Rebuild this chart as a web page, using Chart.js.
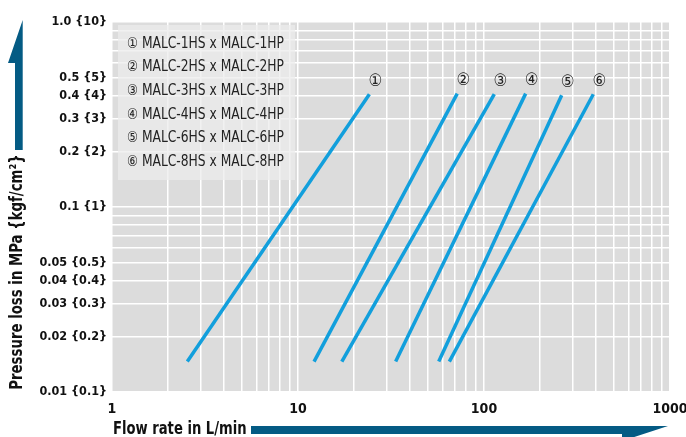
<!DOCTYPE html>
<html><head><meta charset="utf-8">
<script src="https://cdn.jsdelivr.net/npm/chart.js@4"></script>
<style>html,body{margin:0;padding:0;background:#fff}#wrap{width:686px;height:437px}</style>
</head><body><div id="wrap"><canvas id="c" width="686" height="437"></canvas></div>
<script>
// ---- data ----
const seriesNames = ['①','②','③','④','⑤','⑥'];
const legendLabels = ['① MALC-1HS x MALC-1HP','② MALC-2HS x MALC-2HP','③ MALC-3HS x MALC-3HP','④ MALC-4HS x MALC-4HP','⑤ MALC-6HS x MALC-6HP','⑥ MALC-8HS x MALC-8HP'];
const flowLow  = [2.54, 12.2, 17.2, 33.5, 57.1, 65.1];
const flowHigh = [24.2, 71.8, 113.6, 167.5, 261.6, 387];
const pressureLow  = [0.0146, 0.0146, 0.0146, 0.0146, 0.0146, 0.0146];
const pressureHigh = [0.407, 0.41, 0.407, 0.41, 0.402, 0.407];
const yTickValues = [1, 0.5, 0.4, 0.3, 0.2, 0.1, 0.05, 0.04, 0.03, 0.02, 0.01];
const yTickLabels = ['1.0 {10}','0.5 {5}','0.4 {4}','0.3 {3}','0.2 {2}','0.1 {1}','0.05 {0.5}','0.04 {0.4}','0.03 {0.3}','0.02 {0.2}','0.01 {0.1}'];
const xTickValues = [1, 10, 100, 1000];
const xTickLabels = ['1','10','100','1000'];
const xTitle = 'Flow rate in L/min';
const yTitle = 'Pressure loss in MPa {kgf/cm²}';

const FONT = '"DejaVu Sans Condensed","Liberation Sans Narrow","Liberation Sans",sans-serif';
const LINE = '#129fdc';
const ARROW = '#045b84';

function decadeTicks(lo, hi){
  const t=[];
  for(let d=lo; d<hi; d*=10){ for(let m=1;m<10;m++) t.push({value:+(m*d).toPrecision(3)}); }
  t.push({value:hi});
  return t;
}
function findLabel(vals, labels, v){
  for(let i=0;i<vals.length;i++){ if(Math.abs(vals[i]-v)/vals[i] < 1e-6) return labels[i]; }
  return '';
}
function squeezeText(ctx, text, x, y, sx){
  ctx.save(); ctx.translate(x,y); ctx.scale(sx,1); ctx.fillText(text,0,0); ctx.restore();
}

const datasets = seriesNames.map((n,i)=>({
  label:n,
  data:[{x:flowLow[i],y:pressureLow[i]},{x:flowHigh[i],y:pressureHigh[i]}],
  borderColor:LINE, borderWidth:3.5, pointRadius:0, fill:false, tension:0, borderCapStyle:'butt'
}));

const decor = {
  id:'decor',
  beforeDraw(chart){
    const {ctx, chartArea:a} = chart;
    ctx.save();
    ctx.fillStyle='#dcdcdc';
    ctx.fillRect(a.left, a.top, a.right-a.left, a.bottom-a.top);
    ctx.restore();
  },
  beforeDatasetsDraw(chart){
    const {ctx} = chart;
    ctx.save();
    ctx.fillStyle='rgba(236,236,236,0.75)';
    ctx.fillRect(118, 25, 177, 155);
    ctx.fillStyle='#222';
    ctx.font='15px '+FONT;
    ctx.textBaseline='middle';
    legendLabels.forEach((t,i)=>{ squeezeText(ctx, t, 127, 44 + i*23.6, 0.91); });
    ctx.restore();
  },
  afterDatasetsDraw(chart){
    const {ctx} = chart;
    ctx.save();
    ctx.fillStyle='#222';
    ctx.font='17px '+FONT;
    ctx.textAlign='center'; ctx.textBaseline='middle';
    chart.data.datasets.forEach((ds,i)=>{
      const m = chart.getDatasetMeta(i);
      const p = m.data[1];
      ctx.fillText(ds.label, p.x+6, p.y-13);
    });
    // arrows
    ctx.fillStyle=ARROW;
    ctx.beginPath();
    ctx.moveTo(22.7,20); ctx.lineTo(22.7,150); ctx.lineTo(15,150); ctx.lineTo(15,63); ctx.lineTo(8,63); ctx.closePath();
    ctx.fill();
    ctx.beginPath();
    ctx.moveTo(251,426); ctx.lineTo(668,426); ctx.lineTo(622,441); ctx.lineTo(622,434); ctx.lineTo(251,434); ctx.closePath();
    ctx.fill();
    // titles
    ctx.fillStyle='#111';
    ctx.font='bold 17px '+FONT;
    ctx.textAlign='left'; ctx.textBaseline='middle';
    squeezeText(ctx, xTitle, 113, 430, 0.86);
    ctx.translate(18, 272);
    ctx.rotate(-Math.PI/2);
    ctx.textAlign='center';
    squeezeText(ctx, yTitle, 0, 0, 0.87);
    ctx.restore();
  }
};

new Chart(document.getElementById('c'), {
  type:'line',
  data:{datasets},
  options:{
    responsive:false, animation:false, devicePixelRatio:1,
    layout:{autoPadding:false, padding:{left:0,right:16,top:22,bottom:0}},
    plugins:{legend:{display:false}, tooltip:{enabled:false}},
    scales:{
      x:{
        type:'logarithmic', min:1, max:1000,
        afterBuildTicks(s){ s.ticks = decadeTicks(1,1000); },
        afterFit(s){ s.height = 45; s.paddingLeft = 0; s.paddingRight = 0; },
        grid:{color:'#ffffff', lineWidth:1.5, drawTicks:false},
        border:{display:false},
        ticks:{autoSkip:false, maxRotation:0, padding:9, color:'#111',
          font:{family:FONT, size:14, weight:'bold'},
          callback:(v)=>findLabel(xTickValues, xTickLabels, v)}
      },
      y:{
        type:'logarithmic', min:0.01, max:1,
        afterBuildTicks(s){ s.ticks = decadeTicks(0.01,1); },
        afterFit(s){ s.width = 112; s.paddingTop = 0; s.paddingBottom = 0; },
        grid:{color:'#ffffff', lineWidth:1.5, drawTicks:false},
        border:{display:false},
        ticks:{autoSkip:false, padding:5, color:'#111',
          font:{family:FONT, size:12.5, weight:'bold'},
          callback:(v)=>findLabel(yTickValues, yTickLabels, v)}
      }
    }
  },
  plugins:[decor]
});
</script></body></html>
